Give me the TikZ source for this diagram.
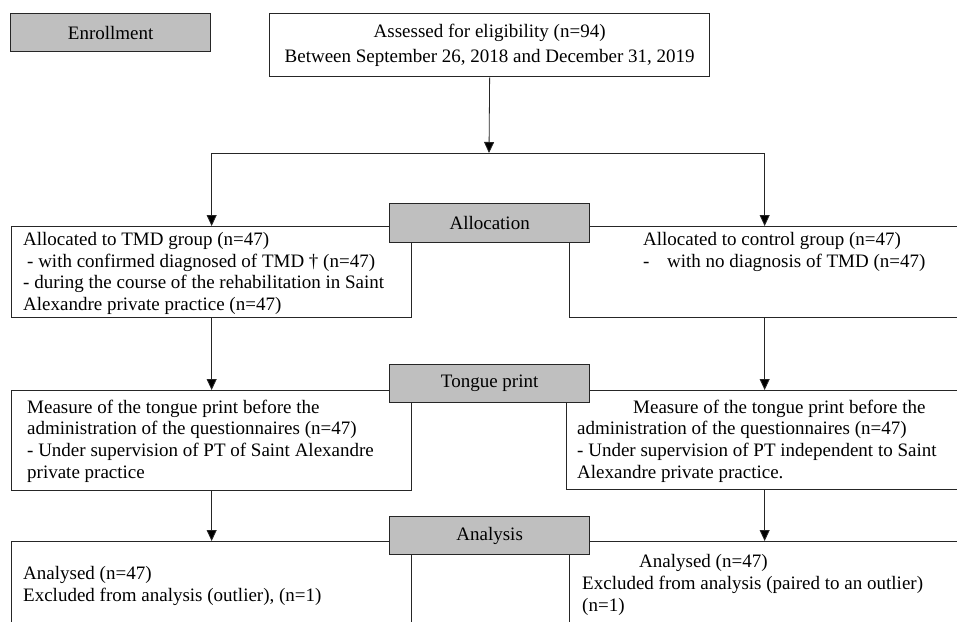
\documentclass[tikz,border=0pt]{standalone}
\usepackage{fontspec}
\setmainfont{Liberation Serif}
\usetikzlibrary{arrows.meta,positioning}

\begin{document}
\begin{tikzpicture}[x=1pt,y=1pt,
    box/.style={draw=black!85,line width=1.3pt,inner sep=0pt,anchor=north west,align=center,font=\fontsize{19}{25}\selectfont},
    stage/.style={box,fill=black!25},
    txt/.style={inner sep=0pt,anchor=north west,align=left,font=\fontsize{19}{21.7}\selectfont},
    arr/.style={draw=black!85,line width=0.8pt,-{Triangle[width=10pt,length=11pt,fill=black]}}]
    \clip (0,0) rectangle (957,-621);
    % top row
    \node[stage,minimum width=200,minimum height=38] (enrol) at (10,-13) {Enrollment};
    \node[box,minimum width=440,minimum height=63] (assess) at (269,-13)
        {Assessed for eligibility (n=94)\\Between September 26, 2018 and December 31, 2019};
    \coordinate (split) at (489,-153);
    % allocation
    \node[box,minimum width=400,minimum height=91] (tmd) at (11,-226) {};
    \node[box,minimum width=390,minimum height=91] (ctl) at (569,-226) {};
    \node[stage,minimum width=200,minimum height=39] (alloc) at (389,-203) {Allocation};
    \node[txt] (tmdtxt) at (23,-232) {Allocated to TMD group (n=47)\\
        \hspace{4pt}- with confirmed diagnosed of TMD † (n=47)\\
        - during the course of the rehabilitation in Saint\\
        Alexandre private practice (n=47)};
    \node[txt] (ctltxt) at (643,-232) {Allocated to control group (n=47)\\
        \makebox[24pt][l]{-}with no diagnosis of TMD (n=47)};
    % tongue print
    \node[box,minimum width=400,minimum height=100] (tmdtp) at (11,-390) {};
    \node[box,minimum width=394,minimum height=99] (ctltp) at (566,-390) {};
    \node[stage,minimum width=200,minimum height=38] (tongue) at (389,-364) {Tongue print};
    \node[txt] (tmdtptxt) at (27,-399.5) {Measure of the tongue print before the\\
        administration of the questionnaires (n=47)\\
        - Under supervision of PT of Saint Alexandre\\
        private practice};
    \node[txt] (ctltptxt) at (577,-399.5) {\hspace{56pt}Measure of the tongue print before the\\
        administration of the questionnaires (n=47)\\
        - Under supervision of PT independent to Saint\\
        Alexandre private practice.};
    % analysis
    \node[box,minimum width=400,minimum height=100] (tmdan) at (11,-541) {};
    \node[box,minimum width=390,minimum height=100] (ctlan) at (569,-541) {};
    \node[stage,minimum width=200,minimum height=38] (analysis) at (389,-516) {Analysis};
    \node[txt] (tmdantxt) at (23,-566.5) {Analysed (n=47)\\
        Excluded from analysis (outlier), (n=1)};
    \node[txt] (ctlantxt) at (582,-554.5) {\hspace{57pt}Analysed (n=47)\\
        Excluded from analysis (paired to an outlier)\\
        (n=1)};
    % connectors
    \draw[arr] (assess.south) -- (split);
    \draw[arr] (split) -| (tmd.north);
    \draw[arr] (split) -| (ctl.north);
    \draw[arr] (tmd.south) -- (tmdtp.north);
    \draw[arr] (ctl.south) -- (ctl.south |- ctltp.north);
    \draw[arr] (tmdtp.south) -- (tmdan.north);
    \draw[arr] (ctl.south |- ctltp.south) -- (ctl.south |- ctlan.north);
\end{tikzpicture}
\end{document}
